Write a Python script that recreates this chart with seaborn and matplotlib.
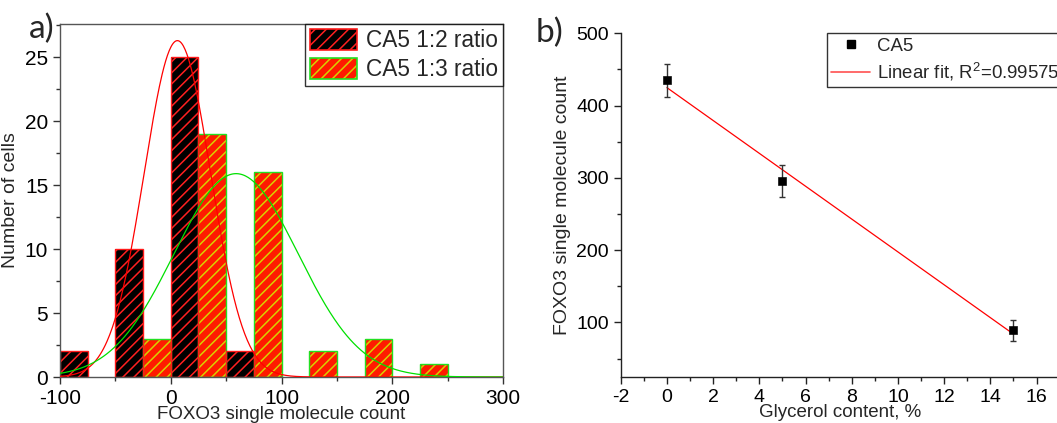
import numpy as np
import pandas as pd
import matplotlib
matplotlib.use("Agg")
import matplotlib.pyplot as plt
import seaborn as sns
from matplotlib.patches import Rectangle
from matplotlib.lines import Line2D
from matplotlib.legend_handler import HandlerTuple
from matplotlib.ticker import MultipleLocator

# ---- panel a: histogram of FOXO3 counts per cell ----
bin_edges = [-100, -50, 0, 50, 100, 150, 200, 250, 300]
counts_1to2 = [2, 10, 25, 2, 0, 0, 0, 0]
counts_1to3 = [0, 3, 19, 16, 2, 3, 1, 0]
series_names = ["CA5 1:2 ratio", "CA5 1:3 ratio"]

# Gaussian fit results: amplitude, centre, sigma
gauss_1to2 = (26.3, 6.0, 30.0)
gauss_1to3 = (15.9, 59.0, 56.0)

# ---- panel b: FOXO3 count vs glycerol content ----
glycerol = [0, 5, 15]
foxo_count = [435, 296, 89]
foxo_err = [23, 22, 15]
point_label = "CA5"
fit_label = r"Linear fit, R$^2$=0.99575"

sns.set_theme(style="ticks")
plt.rcParams["font.family"] = ["Liberation Sans", "DejaVu Sans"]
plt.rcParams["mathtext.fontset"] = "custom"
plt.rcParams["mathtext.rm"] = "Liberation Sans"
plt.rcParams["mathtext.it"] = "Liberation Sans:italic"
plt.rcParams["axes.unicode_minus"] = False
plt.rcParams["hatch.linewidth"] = 1.1

W, H = 1057, 423
fig = plt.figure(figsize=(W / 100, H / 100), dpi=100)

# ---------------- panel a ----------------
axA = fig.add_axes([60 / W, (H - 377) / H, 443 / W, 353 / H])
centres = (np.array(bin_edges[:-1]) + np.array(bin_edges[1:])) / 2
df_hist = pd.DataFrame({
    "molecules": np.concatenate([centres, centres]),
    "cells": counts_1to2 + counts_1to3,
    "series": [series_names[0]] * len(centres) + [series_names[1]] * len(centres),
})
sns.histplot(data=df_hist, x="molecules", weights="cells", hue="series",
             hue_order=series_names, bins=bin_edges, multiple="dodge", shrink=1,
             palette={series_names[0]: "black", series_names[1]: "red"},
             alpha=1, legend=False, ax=axA)

black_style = dict(face="black", hatch_col="#ff2020", border="#ff1a1a")
red_style = dict(face="#ff1a00", hatch_col="#d8d000", border="#22e022")
for p in list(axA.patches):
    r, g, b, _ = p.get_facecolor()
    st = black_style if r < 0.5 else red_style
    h = p.get_height()
    if h <= 0:
        p.set_visible(False)
        continue
    p.set_facecolor(st["face"])
    p.set_edgecolor(st["hatch_col"])
    p.set_hatch("///")
    p.set_linewidth(0)
    axA.add_patch(Rectangle((p.get_x(), p.get_y()), p.get_width(), h,
                            fill=False, edgecolor=st["border"], lw=1.0, zorder=p.get_zorder() + 0.1))

xs = np.linspace(bin_edges[0], bin_edges[-1], 500)
for (amp, mu, sig), col in [(gauss_1to2, "#ff0000"), (gauss_1to3, "#00e000")]:
    sns.lineplot(x=xs, y=amp * np.exp(-(xs - mu) ** 2 / (2 * sig ** 2)),
                 color=col, lw=0.9, ax=axA, zorder=5)

axA.set_xlim(-100, 300)
axA.set_ylim(0, 27.6)
axA.xaxis.set_major_locator(MultipleLocator(100))
axA.xaxis.set_minor_locator(MultipleLocator(50))
axA.yaxis.set_major_locator(MultipleLocator(5))
axA.yaxis.set_minor_locator(MultipleLocator(2.5))
axA.tick_params(which="both", direction="out", colors="#333333", labelcolor="black", labelsize=15)
axA.tick_params(which="major", length=5, width=1)
axA.tick_params(which="minor", length=3, width=1)
for s in axA.spines.values():
    s.set_color("#555555")
    s.set_linewidth(1)
axA.set_xlabel("FOXO3 single molecule count", fontsize=13.5, labelpad=-1)
axA.set_ylabel("Number of cells", fontsize=14, labelpad=4)

handles = []
for st in (black_style, red_style):
    fill = Rectangle((0, 0), 1, 1, facecolor=st["face"], edgecolor=st["hatch_col"], hatch="///", lw=0)
    edge = Rectangle((0, 0), 1, 1, fill=False, edgecolor=st["border"], lw=1.2)
    handles.append((fill, edge))
legA = axA.legend(handles, series_names, handler_map={tuple: HandlerTuple(ndivide=1, pad=0)},
                  loc="upper right", borderaxespad=0, fontsize=16.3, frameon=True, fancybox=False,
                  handlelength=2.1, handleheight=1.1, borderpad=0.2, labelspacing=0.25,
                  handletextpad=0.4)
legA.get_frame().set_edgecolor("black")
legA.get_frame().set_linewidth(1)

# ---------------- panel b ----------------
axB = fig.add_axes([620.7 / W, (H - 376.7) / H, 439 / W, 343.4 / H])
axB.errorbar(glycerol, foxo_count, yerr=foxo_err, fmt="none", ecolor="#333333",
             elinewidth=1, capsize=2.5, capthick=1, zorder=3)
sns.scatterplot(x=glycerol, y=foxo_count, marker="s", s=30, color="black",
                edgecolor="black", ax=axB, zorder=4)
sns.regplot(x=glycerol, y=foxo_count, ci=None, scatter=False, truncate=True,
            line_kws=dict(color="#ff0000", lw=0.9), ax=axB)

axB.set_xlim(-2, 17)
axB.set_ylim(25, 500)
axB.xaxis.set_major_locator(MultipleLocator(2))
axB.xaxis.set_minor_locator(MultipleLocator(1))
axB.yaxis.set_major_locator(MultipleLocator(100))
axB.yaxis.set_minor_locator(MultipleLocator(50))
axB.set_yticks([100, 200, 300, 400, 500])
axB.tick_params(which="both", direction="out", colors="#222222", labelcolor="black", labelsize=14)
axB.tick_params(which="major", length=5, width=1)
axB.tick_params(which="minor", length=3, width=1)
sns.despine(ax=axB)
for s in ("left", "bottom"):
    axB.spines[s].set_color("#222222")
    axB.spines[s].set_linewidth(1)
axB.set_xlabel("Glycerol content, %", fontsize=13.5, labelpad=-1)
axB.set_ylabel("FOXO3 single molecule count", fontsize=14, labelpad=4)

hB = [Line2D([], [], marker="s", ls="none", color="black", markersize=5.5),
      Line2D([], [], color="#ff5050", lw=1.2)]
legB = axB.legend(hB, [point_label, fit_label], loc="upper left",
                  bbox_to_anchor=(0.469, 1.0), borderaxespad=0, fontsize=13.4,
                  frameon=True, fancybox=False, handlelength=2.1, borderpad=0.25,
                  labelspacing=0.3, handletextpad=0.35)
legB.get_frame().set_edgecolor("black")
legB.get_frame().set_linewidth(1)

# panel letters
fig.text(29 / W, 1 - 38 / H, "a)", fontsize=24, family=["Lato", "DejaVu Sans"], va="baseline")
fig.text(536 / W, 1 - 42 / H, "b)", fontsize=24, family=["Lato", "DejaVu Sans"], va="baseline")

fig.savefig("out.png", dpi=100)
